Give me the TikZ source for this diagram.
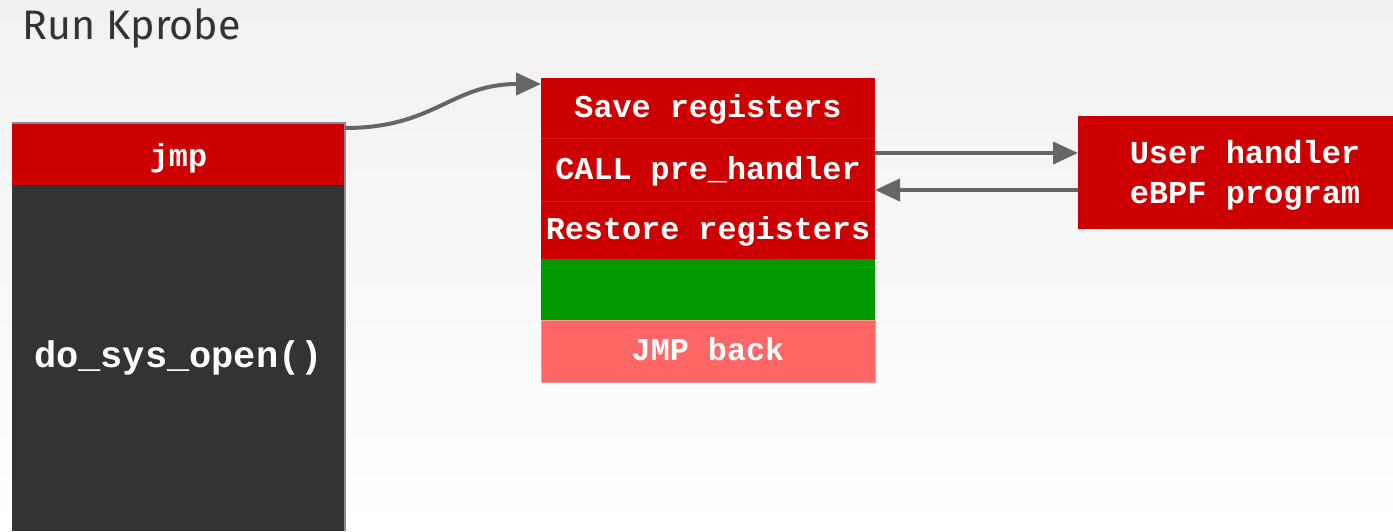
\documentclass[tikz,border=0pt]{standalone}
\usepackage{fontspec}
\setmonofont{Liberation Mono}
\newfontfamily\titlefont{Fira Sans}
\usetikzlibrary{arrows.meta}

\definecolor{bgtop}{RGB}{241,241,241}
\definecolor{kred}{RGB}{204,0,0}
\definecolor{kredline}{RGB}{214,30,30}
\definecolor{kgreen}{RGB}{0,153,0}
\definecolor{kpink}{RGB}{255,102,102}
\definecolor{kpinkline}{RGB}{255,150,150}
\definecolor{kdark}{RGB}{51,51,51}
\definecolor{karrow}{RGB}{102,102,102}
\definecolor{ktitle}{RGB}{51,51,51}

\tikzset{
  cell/.style={rectangle, inner sep=0pt, outer sep=0pt, minimum width=167pt,
    text height=9.5pt, text depth=0pt,
    text=white, font=\ttfamily\bfseries\fontsize{15.9pt}{18pt}\selectfont},
  redcell/.style={cell, fill=kred},
  flow/.style={draw=karrow, line width=2pt,
    -{Triangle[length=12.5pt,width=11pt]}},
}

\begin{document}
\begin{tikzpicture}[x=0.5pt, y=-0.5pt]
  % page and background
  \useasboundingbox (0,0) rectangle (1393,531);
  \shade[top color=bgtop, bottom color=white] (0,0) rectangle (1393,531);

  % title
  \node[anchor=base west, inner sep=0pt, text=ktitle,
        font=\titlefont\fontsize{20.6pt}{23pt}\selectfont] (title) at (22,39) {Run Kprobe};

  % probed function: patched jmp on top of the function body
  \node[cell, fill=kdark, minimum width=166.5pt, minimum height=173pt,
        text height=11pt, text depth=2pt,
        font=\ttfamily\bfseries\fontsize{18.5pt}{21pt}\selectfont] (body) at (178.5,358) {do\_sys\_open()};
  \node[redcell, minimum width=166.5pt, minimum height=31pt,
        text height=12pt] (jmp) at (178.5,154) {jmp};
  \draw[black!45, line width=0.6pt] (jmp.north west) -- (jmp.north east) -- (body.south east);

  % kprobe trampoline
  \node[redcell, minimum height=30pt]   (save)    at (708,108)   {Save registers};
  \node[redcell, minimum height=31.5pt] (call)    at (708,169.5) {CALL pre\_handler};
  \node[redcell, minimum height=29pt]   (restore) at (708,230)   {Restore registers};
  \node[cell, fill=kgreen, minimum height=30.5pt] (orig) at (708,289.5) {};
  \node[cell, fill=kpink, draw=kpinkline, line width=0.5pt, minimum height=31pt] (back) at (708,351) {JMP back};
  \draw[kredline, line width=0.5pt] (save.south west) -- (save.south east);
  \draw[kredline, line width=0.5pt] (call.south west) -- (call.south east);

  % user handler (the box runs past the right edge of the page)
  \node[redcell, minimum width=167pt, minimum height=56.5pt, align=center,
        text height=30.5pt, text depth=0pt,
        font=\ttfamily\bfseries\fontsize{16pt}{20pt}\selectfont] (user) at (1245,172.5)
        {User handler\\eBPF program};

  % connectors
  \draw[flow] ([yshift=13pt]jmp.east) .. controls +(45pt,0pt) and +(-45pt,0pt) .. ([yshift=12pt]save.west);
  \draw[flow] ([yshift=8.25pt]call.east) -- ([yshift=8.25pt]call.east -| user.west);
  \draw[flow] ([yshift=-10.25pt]call.east -| user.west) -- ([yshift=-10.25pt]call.east);
\end{tikzpicture}
\end{document}
